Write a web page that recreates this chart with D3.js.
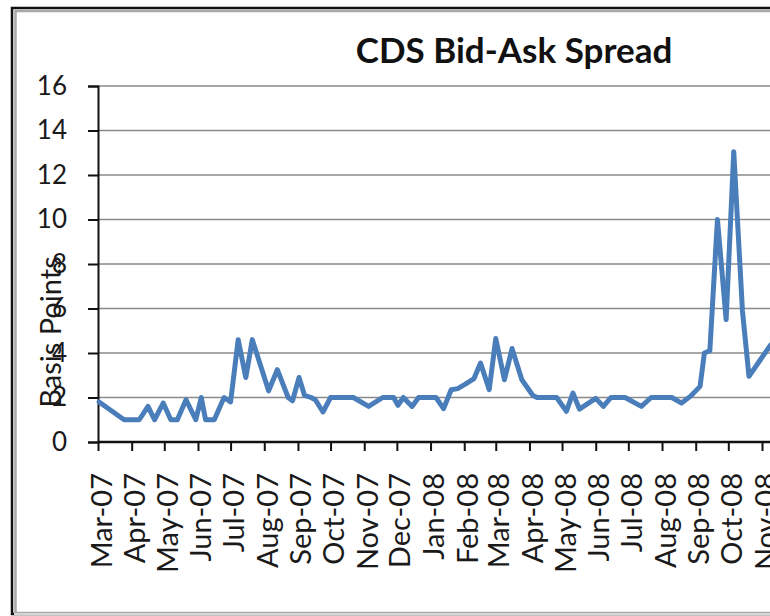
<!DOCTYPE html>
<html>
<head>
<meta charset="utf-8">
<script src="https://cdn.jsdelivr.net/npm/d3@7"></script>
<style>
  body { margin: 0; background: #fff; }
  #chart { width: 770px; height: 616px; overflow: hidden; }
  svg { display: block; }
</style>
</head>
<body>
<div id="chart"></div>
<script>
const obsDates = [
  "2007-03-02","2007-03-25","2007-04-08","2007-04-16","2007-04-22","2007-04-30",
  "2007-05-07","2007-05-13","2007-05-21","2007-05-30","2007-06-04","2007-06-08",
  "2007-06-16","2007-06-25","2007-07-01","2007-07-08","2007-07-15","2007-07-21",
  "2007-08-05","2007-08-13","2007-08-23","2007-08-27","2007-09-02","2007-09-07",
  "2007-09-13","2007-09-17","2007-09-24","2007-10-01","2007-10-22","2007-11-05",
  "2007-11-18","2007-11-28","2007-12-02","2007-12-07","2007-12-15","2007-12-21",
  "2008-01-06","2008-01-13","2008-01-20","2008-01-26","2008-02-02","2008-02-10",
  "2008-02-16","2008-02-24","2008-03-01","2008-03-09","2008-03-16","2008-03-25",
  "2008-04-04","2008-04-08","2008-04-26","2008-05-05","2008-05-11","2008-05-17",
  "2008-06-01","2008-06-08","2008-06-15","2008-06-28","2008-07-13","2008-07-22",
  "2008-08-10","2008-08-19","2008-08-27","2008-09-05","2008-09-09","2008-09-14",
  "2008-09-21","2008-09-29","2008-10-06","2008-10-14","2008-10-20","2008-11-08",
  "2008-11-20"
];
const spreadBp = [
  1.8, 1.0, 1.0, 1.6, 1.0, 1.75,
  1.0, 1.0, 1.9, 1.0, 2.0, 1.0,
  1.0, 2.0, 1.8, 4.6, 2.9, 4.6,
  2.3, 3.25, 2.0, 1.85, 2.9, 2.1,
  2.0, 1.9, 1.35, 2.0, 2.0, 1.6,
  2.0, 2.0, 1.65, 2.0, 1.6, 2.0,
  2.0, 1.5, 2.35, 2.4, 2.6, 2.85,
  3.55, 2.35, 4.65, 2.8, 4.2, 2.8,
  2.1, 2.0, 2.0, 1.38, 2.2, 1.48,
  1.96, 1.6, 2.0, 2.0, 1.6, 2.0,
  2.0, 1.75, 2.05, 2.5, 4.0, 4.1,
  10.0, 5.5, 13.05, 5.9, 2.95, 4.3,
  5.0
];

// axis ticks
const monthTicks = [
  "2007-03-01","2007-04-01","2007-05-01","2007-06-01","2007-07-01","2007-08-01",
  "2007-09-01","2007-10-01","2007-11-01","2007-12-01","2008-01-01","2008-02-01",
  "2008-03-01","2008-04-01","2008-05-01","2008-06-01","2008-07-01","2008-08-01",
  "2008-09-01","2008-10-01","2008-11-01"
];
const yTicks = [0, 2, 4, 6, 8, 10, 12, 14, 16];

const chartTitle = "CDS Bid-Ask Spread";
const yTitle = "Basis Points";

const width = 770, height = 616;
const plotLeft = 98, plotRight = 840, plotTop = 86, plotBottom = 442;
const font = "Lato, 'Open Sans', sans-serif";

const parse = d3.timeParse("%Y-%m-%d");
const data = obsDates.map((d, i) => ({ date: parse(d), value: spreadBp[i] }));
const tickDates = monthTicks.map(parse);

const svg = d3.select("#chart")
  .append("svg")
  .attr("width", width)
  .attr("height", height);

svg.append("rect").attr("width", width).attr("height", height).attr("fill", "#fff");

// chart frame (double border, right side runs off the picture)
svg.append("rect")
  .attr("x", 12).attr("y", 8).attr("width", 900).attr("height", 606)
  .attr("fill", "none").attr("stroke", "#111").attr("stroke-width", 2.5);
svg.append("rect")
  .attr("x", 15.5).attr("y", 11).attr("width", 900).attr("height", 602)
  .attr("fill", "none").attr("stroke", "#a8a8a8").attr("stroke-width", 2.5);
svg.append("line")
  .attr("x1", 14).attr("x2", width).attr("y1", 614).attr("y2", 614)
  .attr("stroke", "#d6d6d6").attr("stroke-width", 2);

// scales: Excel date axis, one month ~ 33 px
const x = d3.scaleTime()
  .domain([parse("2007-03-01"), parse("2008-11-01")])
  .range([plotLeft, 762]);

const y = d3.scaleLinear()
  .domain([0, 16])
  .range([plotBottom, plotTop]);

// gridlines
svg.append("g")
  .selectAll("line")
  .data(yTicks.filter(d => d > 0))
  .enter()
  .append("line")
    .attr("x1", plotLeft).attr("x2", plotRight)
    .attr("y1", d => y(d)).attr("y2", d => y(d))
    .attr("stroke", "#8a8a8a")
    .attr("stroke-width", 1.4);

// Y axis
const yAxis = svg.append("g")
  .attr("transform", "translate(" + plotLeft + ",0)")
  .call(d3.axisLeft(y).tickValues(yTicks).tickSize(10).tickPadding(21).tickFormat(d3.format("d")));
yAxis.select(".domain").attr("stroke", "#111").attr("stroke-width", 2);
yAxis.selectAll(".tick line").attr("stroke", "#111").attr("stroke-width", 2);
yAxis.selectAll(".tick text")
  .attr("fill", "#1a1a1a")
  .style("font-family", font)
  .style("font-size", "26px");

// X axis
const xAxis = svg.append("g")
  .attr("transform", "translate(0," + plotBottom + ")")
  .call(d3.axisBottom(x).tickValues(tickDates).tickSize(9).tickFormat(d3.timeFormat("%b-%y")));
xAxis.select(".domain").attr("d", "M" + plotLeft + ",0H" + plotRight).attr("stroke", "#111").attr("stroke-width", 2.5);
xAxis.selectAll(".tick line").attr("stroke", "#111").attr("stroke-width", 2);
xAxis.selectAll(".tick text")
  .attr("transform", "rotate(-90)")
  .attr("x", -31)
  .attr("y", 13)
  .attr("dy", 0)
  .style("text-anchor", "end")
  .attr("fill", "#1a1a1a")
  .style("font-family", font)
  .style("font-size", "29px");

// axis title
svg.append("text")
  .attr("transform", "translate(61,332) rotate(-90)")
  .attr("text-anchor", "middle")
  .attr("fill", "#1a1a1a")
  .style("font-family", font)
  .style("font-size", "29px")
  .text(yTitle);

// chart title
svg.append("text")
  .attr("x", 514)
  .attr("y", 63)
  .attr("text-anchor", "middle")
  .attr("fill", "#111")
  .style("font-family", font)
  .style("font-weight", "bold")
  .style("font-size", "35px")
  .text(chartTitle);

// the series
const line = d3.line()
  .x(d => x(d.date))
  .y(d => y(d.value));

svg.append("path")
  .datum(data)
  .attr("fill", "none")
  .attr("stroke", "#4a7ebb")
  .attr("stroke-width", 5)
  .attr("stroke-linejoin", "round")
  .attr("stroke-linecap", "round")
  .attr("d", line);
</script>
</body>
</html>
